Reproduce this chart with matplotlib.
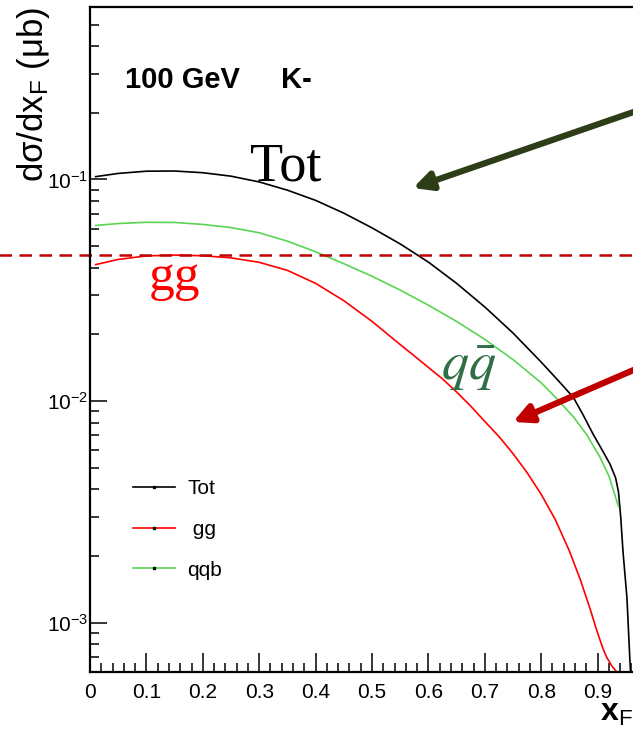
import matplotlib
matplotlib.use("Agg")
import matplotlib.pyplot as plt
from matplotlib.lines import Line2D
from matplotlib.ticker import FixedLocator, LogLocator, NullFormatter, FixedFormatter

# Data
xf_tot = [0.01, 0.05, 0.1, 0.15, 0.2, 0.25, 0.3, 0.35, 0.4, 0.45, 0.5, 0.55, 0.6, 0.65,
          0.7, 0.75, 0.8, 0.83, 0.857, 0.874, 0.892, 0.91, 0.922, 0.932, 0.937, 0.941,
          0.945, 0.952, 0.957, 0.962]
sig_tot = [0.103, 0.1065, 0.109, 0.1092, 0.1073, 0.1035, 0.0975, 0.0895, 0.0805, 0.0705,
           0.0605, 0.0512, 0.0424, 0.0340, 0.0266, 0.0203, 0.0150, 0.0124, 0.0104, 0.0087,
           0.0071, 0.0059, 0.0052, 0.0045, 0.0039, 0.0030, 0.0021, 0.0013, 7.0e-4, 4.0e-4]

xf_gg = [0.01, 0.05, 0.1, 0.15, 0.2, 0.25, 0.3, 0.35, 0.4, 0.45, 0.5, 0.55, 0.575, 0.6, 0.625,
         0.65, 0.675, 0.7, 0.725, 0.75, 0.775, 0.8, 0.825, 0.85, 0.87, 0.887, 0.897, 0.904,
         0.91, 0.916, 0.925, 0.934, 0.945]
sig_gg = [0.0413, 0.0436, 0.0452, 0.0456, 0.0453, 0.0443, 0.0423, 0.0389, 0.0340, 0.0284,
          0.0229, 0.0180, 0.0160, 0.0142, 0.0126, 0.0110, 0.0095, 0.0081, 0.00693, 0.0058,
          0.00476, 0.0038, 0.00292, 0.00211, 0.00155, 0.00115, 0.00095, 0.00084, 0.00076,
          0.00070, 0.00064, 0.00060, 0.00052]

xf_qqb = [0.01, 0.05, 0.1, 0.15, 0.2, 0.25, 0.3, 0.35, 0.4, 0.45, 0.5, 0.55, 0.6, 0.65, 0.7,
          0.75, 0.8, 0.827, 0.857, 0.88, 0.904, 0.92, 0.937]
sig_qqb = [0.062, 0.0633, 0.0641, 0.064, 0.0627, 0.0607, 0.0575, 0.0527, 0.0472, 0.0417,
           0.0366, 0.0317, 0.0271, 0.0229, 0.0190, 0.0154, 0.0121, 0.0103, 0.0085, 0.0071,
           0.0056, 0.0046, 0.00335]

ref_level = 0.0458
legend_labels = ["Tot", " gg", "qqb"]
xticks = [0.0, 0.1, 0.2, 0.3, 0.4, 0.5, 0.6, 0.7, 0.8, 0.9]
xtick_labels = ["0", "0.1", "0.2", "0.3", "0.4", "0.5", "0.6", "0.7", "0.8", "0.9"]

plt.rcParams["font.family"] = ["Liberation Sans", "DejaVu Sans"]
plt.rcParams["mathtext.fontset"] = "custom"
plt.rcParams["mathtext.rm"] = "Liberation Sans"
plt.rcParams["mathtext.it"] = "Liberation Sans:italic"
plt.rcParams["mathtext.bf"] = "Liberation Sans:bold"

W, H = 633, 734
fig = plt.figure(figsize=(W / 100, H / 100), dpi=100)
# axes reaches past the right edge (reference is cropped there)
ax = fig.add_axes([90 / W, 62 / H, 564 / W, 665 / H])

GREEN = "#59d454"
ax.plot(xf_tot, sig_tot, "-", color="black", lw=1.2)
ax.plot(xf_gg, sig_gg, "-", color="#ff0000", lw=1.2)
ax.plot(xf_qqb, sig_qqb, "-", color=GREEN, lw=1.2)

ax.axhline(ref_level, xmin=-0.17, xmax=1.0, color="#c00000", lw=1.8,
           ls=(0, (5, 3)), clip_on=False)

ax.set_yscale("log")
ax.set_xlim(0, 1.0)
ax.set_ylim(6e-4, 0.6)

ax.xaxis.set_major_locator(FixedLocator(xticks))
ax.xaxis.set_major_formatter(FixedFormatter(xtick_labels))
ax.xaxis.set_minor_locator(FixedLocator([i * 0.02 for i in range(51)]))
ax.yaxis.set_major_locator(LogLocator(base=10, numticks=10))
ax.yaxis.set_minor_locator(LogLocator(base=10, subs=range(2, 10), numticks=20))
ax.yaxis.set_minor_formatter(NullFormatter())

ax.tick_params(axis="x", which="major", direction="in", length=13.5, width=1.1,
               labelsize=15, pad=8)
ax.tick_params(axis="x", which="minor", direction="in", length=6.5, width=1.1)
ax.tick_params(axis="y", which="major", direction="in", length=12, width=1.1,
               labelsize=15, pad=1)
ax.tick_params(axis="y", which="minor", direction="in", length=6.5, width=1.1)
for s in ["left", "bottom", "top"]:
    ax.spines[s].set_linewidth(1.6)
ax.spines["right"].set_visible(False)

# axis titles
fig.text(34 / W, 1 - 7 / H, "dσ/dx$_{\\mathrm{F}}$ (μb)", rotation=90,
         ha="center", va="top", fontsize=25)
fig.text(600 / W, 1 - 721 / H, r"$\mathbf{x}_{\mathrm{F}}$", ha="left", va="baseline",
         fontsize=23)

# labels on the plot
fig.text(125 / W, 1 - 88 / H, "100 GeV", fontsize=21, fontweight="bold",
         ha="left", va="baseline")
fig.text(281 / W, 1 - 88 / H, "K-", fontsize=21, fontweight="bold",
         ha="left", va="baseline")
ax.text(0.284, 0.099, "Tot", family="Liberation Serif", fontsize=39, color="black",
        ha="left", va="baseline")
ax.text(0.104, 0.0318, "gg", family="Liberation Serif", fontsize=37, color="#ff0000",
        ha="left", va="baseline")
ax.text(0.622, 0.0124, r"$q\bar{q}$", math_fontfamily="stix", fontsize=39,
        color="#2f6f45", ha="left", va="baseline")

# arrows (figure pixels)
ax.annotate("", xy=(413, H - 188), xycoords="figure pixels",
            xytext=(680, H - 96), textcoords="figure pixels",
            arrowprops=dict(arrowstyle="-|>,head_length=1.1,head_width=0.55",
                            color="#2d3d18", lw=4.5, shrinkA=0, shrinkB=0),
            annotation_clip=False)
ax.annotate("", xy=(513, H - 422), xycoords="figure pixels",
            xytext=(680, H - 350), textcoords="figure pixels",
            arrowprops=dict(arrowstyle="-|>,head_length=1.1,head_width=0.55",
                            color="#c00000", lw=4.5, shrinkA=0, shrinkB=0),
            annotation_clip=False)

handles = [
    Line2D([], [], color="black", lw=1.2, marker="s", ms=1.5, mfc="k", mec="k"),
    Line2D([], [], color="#ff0000", lw=1.2, marker="s", ms=1.5, mfc="k", mec="k"),
    Line2D([], [], color=GREEN, lw=1.2, marker="s", ms=1.5, mfc="k", mec="k"),
]
ax.legend(handles, legend_labels, loc="upper left", bbox_to_anchor=(133 / W, 1 - 479 / H),
          bbox_transform=fig.transFigure, frameon=False, fontsize=15, handlelength=2.0,
          handletextpad=0.6, labelspacing=1.05, borderpad=0, borderaxespad=0,
          numpoints=1)

fig.savefig("out.png", dpi=100)
